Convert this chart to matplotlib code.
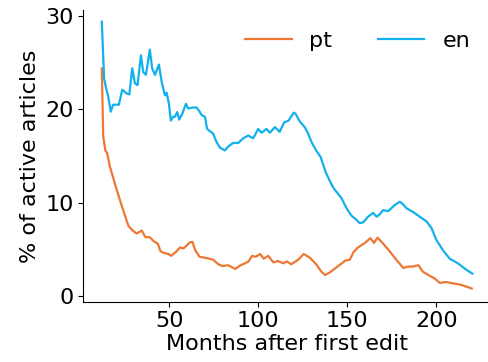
import matplotlib
matplotlib.use("Agg")
from matplotlib import pyplot as plt

# months after first edit / % of active articles
months_pt = [12, 12.8, 14, 15, 16.5, 18.5, 21, 24, 27, 29.5, 31.5, 34.5, 36.5, 39, 41, 43.5,
             45, 47, 49.5, 51, 53.5, 56, 58, 61.5, 63, 64.5, 67, 70, 74.5, 77.5, 80, 83,
             87, 90, 92.5, 94.5, 96.5, 98.5, 101, 103, 105.5, 108.5, 111, 114, 116, 118.5,
             122.5, 125.5, 129, 132.5, 135.5, 137.5, 140, 143.5, 145.5, 149, 151.5, 153.5,
             156, 160, 163, 165, 167, 170, 174, 177.5, 181.5, 184, 187, 190, 192.5, 196.5,
             199, 202, 205.5, 209.5, 214, 217, 220]
pct_pt = [24.4, 17.1, 15.6, 15.3, 13.9, 12.6, 11.0, 9.2, 7.5, 7.0, 6.7, 7.0, 6.3, 6.3, 5.9, 5.6,
          4.8, 4.6, 4.5, 4.3, 4.7, 5.2, 5.1, 5.75, 5.8, 4.9, 4.2, 4.1, 3.9, 3.4, 3.2, 3.3,
          2.9, 3.3, 3.5, 3.7, 4.3, 4.2, 4.5, 4.0, 4.3, 3.6, 3.75, 3.5, 3.7, 3.4,
          3.9, 4.5, 4.1, 3.4, 2.6, 2.25, 2.5, 3.0, 3.3, 3.8, 3.9, 4.7,
          5.2, 5.7, 6.2, 5.7, 6.25, 5.65, 4.75, 3.9, 3.0, 3.15, 3.15, 3.3, 2.6, 2.15,
          1.9, 1.4, 1.5, 1.35, 1.2, 1.0, 0.8]

months_en = [12, 13.3, 14.6, 15.5, 17, 18.4, 20.3, 21.6, 23.5, 26, 27.5, 29.1, 30.6, 32.1,
             34, 35.3, 36.8, 39, 40.3, 41.9, 44.1, 45.6, 47.5, 48.4, 49.7, 50.8, 52.1, 53,
             54.4, 55.5, 57.4, 59.3, 60.6, 63.4, 65.3, 67, 68.1, 70, 71.2, 74.6, 76.5,
             78.4, 81.2, 83, 85.8, 88.7, 91.5, 94.3, 97.1, 99.9, 101.8, 104.6, 106.5, 109.3,
             112, 114.5, 117, 119.9, 121, 123.3, 126.1, 128, 129.9, 132.5, 135, 137.8, 140.5,
             142.5, 146.7, 149.6, 152.4, 155, 157, 159, 161.7, 164.5, 166.5, 168, 170.1,
             173, 176.7, 179.5, 181, 183.3, 187, 190.7, 194.5, 197.3, 200.1, 203.8, 207.6,
             212.2, 217, 220.3]
pct_en = [29.4, 23.3, 22.1, 21.5, 19.75, 20.5, 20.5, 20.5, 22.1, 21.7, 21.6, 24.4, 22.8, 22.6,
          25.8, 24.0, 23.7, 26.4, 24.4, 23.7, 24.8, 23.0, 21.5, 21.8, 20.65, 18.8, 19.2, 19.2,
          19.7, 18.9, 19.6, 20.6, 20.1, 20.2, 20.2, 19.75, 19.4, 19.2, 17.9, 17.4, 16.5,
          15.9, 15.6, 16.0, 16.4, 16.4, 16.9, 17.2, 16.9, 17.9, 17.5, 17.9, 17.5, 18.1,
          17.6, 18.6, 18.8, 19.65, 19.5, 18.7, 18.1, 17.4, 16.5, 15.6, 14.9, 13.3, 12.2,
          11.5, 10.5, 9.4, 8.6, 8.2, 7.8, 7.9, 8.5, 8.9, 8.5, 8.7, 9.2,
          9.1, 9.75, 10.1, 9.9, 9.4, 9.0, 8.5, 8.0, 7.3, 6.0, 4.9, 4.0,
          3.5, 2.8, 2.4]

plt.rcParams['font.family'] = ['DejaVu Sans']

fig = plt.figure(figsize=(4.88, 3.62), dpi=100)
ax = fig.add_axes([0.1707, 0.1666, 0.834, 0.8058])

ax.plot(months_pt, pct_pt, color='#ee7733', lw=1.6, label='pt')
ax.plot(months_en, pct_en, color='#12b0ec', lw=1.6, label='en')

ax.set_xlim(1.6, 230.4)
ax.set_ylim(-0.61, 30.65)
ax.set_xticks([50, 100, 150, 200])
ax.set_yticks([0, 10, 20, 30])
ax.tick_params(labelsize=16)
ax.set_xlabel('Months after first edit', fontsize=16, labelpad=2)
ax.set_ylabel('% of active articles', fontsize=16)
ax.spines['top'].set_visible(False)
ax.spines['right'].set_visible(False)

ax.legend(loc='upper right', bbox_to_anchor=(490 / 488, 1 - 11 / 362),
          bbox_transform=fig.transFigure, ncol=2, frameon=False, fontsize=16,
          handlelength=2.1, columnspacing=2.05)

fig.savefig('out.png', dpi=100)
